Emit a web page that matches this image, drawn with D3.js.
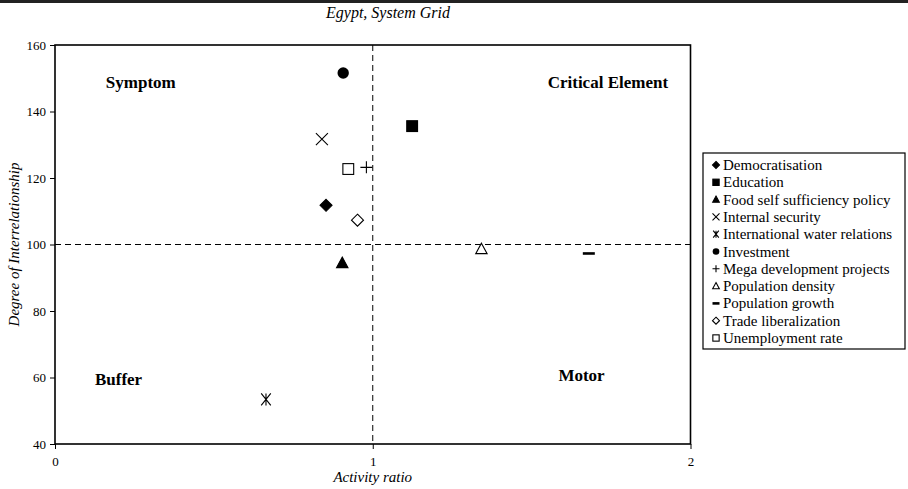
<!DOCTYPE html>
<html>
<head>
<meta charset="utf-8">
<script src="https://cdn.jsdelivr.net/npm/d3@7"></script>
<style>
  html, body { margin: 0; padding: 0; background: #fff; }
  svg { display: block; }
  svg text { font-family: "Liberation Serif", "Times New Roman", serif; fill: #000; }
</style>
</head>
<body>
<svg id="chart" width="908" height="489"></svg>
<script>
// Variables of the system grid
const names = [
  "Democratisation", "Education", "Food self sufficiency policy", "Internal security",
  "International water relations", "Investment", "Mega development projects",
  "Population density", "Population growth", "Trade liberalization", "Unemployment rate"
];
const markers = ["diamondFill", "squareFill", "triangleFill", "cross", "asterisk",
  "circleFill", "plus", "triangleOpen", "dash", "diamondOpen", "squareOpen"];
const activityRatio = [0.853, 1.124, 0.904, 0.84, 0.664, 0.907, 0.98, 1.342, 1.68, 0.952, 0.923];
const interrelation = [111.8, 135.6, 94.4, 131.7, 53.4, 151.6, 123.2, 98.6, 97.3, 107.3, 122.7];

const xTicks = [0, 1, 2];
const yTicks = [40, 60, 80, 100, 120, 140, 160];
const quadrants = [
  { text: "Symptom", x: 0.27, y: 147.2 },
  { text: "Critical Element", x: 1.74, y: 147.2 },
  { text: "Buffer", x: 0.2, y: 57.8 },
  { text: "Motor", x: 1.657, y: 59.0 }
];

const svg = d3.select("#chart");
const L = 55, R = 690.5, T = 45, B = 444;
const x = d3.scaleLinear().domain([0, 2]).range([L, R]);
const y = d3.scaleLinear().domain([40, 160]).range([B, T]);

// heavy rule across the top of the figure
svg.append("rect").attr("x", 0).attr("y", 0).attr("width", 908).attr("height", 3).attr("fill", "#222");

// title
svg.append("text").attr("x", 388).attr("y", 18).attr("text-anchor", "middle")
  .attr("font-style", "italic").attr("font-size", 16).text("Egypt, System Grid");

// axes
const xAxis = d3.axisBottom(x).tickValues(xTicks).tickSize(5).tickFormat(d3.format("d"));
const yAxis = d3.axisLeft(y).tickValues(yTicks).tickSize(5).tickFormat(d3.format("d"));
const gx = svg.append("g").attr("transform", `translate(0,${B})`).call(xAxis);
const gy = svg.append("g").attr("transform", `translate(${L},0)`).call(yAxis);
[gx, gy].forEach(g => {
  g.attr("font-family", null).attr("font-size", null);
  g.select(".domain").remove();
  g.selectAll("line").attr("stroke", "#000").attr("stroke-width", 1);
  g.selectAll("text").attr("font-size", 13).attr("fill", "#000");
});
gx.selectAll("text").attr("dy", "1.1em");
gy.selectAll("text").attr("dx", "-1px");

// quadrant dividers
svg.append("line").attr("x1", x(1)).attr("x2", x(1)).attr("y1", T).attr("y2", B)
  .attr("stroke", "#000").attr("stroke-dasharray", "6,4");
svg.append("line").attr("x1", L).attr("x2", R).attr("y1", y(100)).attr("y2", y(100))
  .attr("stroke", "#000").attr("stroke-dasharray", "6,4");

// plot frame
svg.append("rect").attr("x", L).attr("y", T).attr("width", R - L).attr("height", B - T)
  .attr("fill", "none").attr("stroke", "#000").attr("stroke-width", 1.6);

// quadrant labels
svg.selectAll(".quad").data(quadrants).join("text")
  .attr("x", d => x(d.x)).attr("y", d => y(d.y))
  .attr("text-anchor", "middle").attr("font-weight", "bold").attr("font-size", 17)
  .text(d => d.text);

// axis titles
svg.append("text").attr("x", x(1)).attr("y", 482).attr("text-anchor", "middle")
  .attr("font-style", "italic").attr("font-size", 15).text("Activity ratio");
svg.append("text").attr("transform", `translate(19,${y(100)}) rotate(-90)`)
  .attr("text-anchor", "middle").attr("font-style", "italic").attr("font-size", 15)
  .text("Degree of Interrelationship");

// marker drawing
function drawMarker(g, type, s) {
  const h = s / 2;
  switch (type) {
    case "diamondFill":
    case "diamondOpen":
      g.append("path").attr("d", `M0,${-h}L${h},0L0,${h}L${-h},0Z`)
        .attr("fill", type === "diamondFill" ? "#000" : "#fff").attr("stroke", "#000").attr("stroke-width", 1.1);
      break;
    case "squareFill":
    case "squareOpen":
      g.append("rect").attr("x", -h * 0.9).attr("y", -h * 0.9).attr("width", h * 1.8).attr("height", h * 1.8)
        .attr("fill", type === "squareFill" ? "#000" : "#fff").attr("stroke", "#000").attr("stroke-width", 1.1);
      break;
    case "triangleFill":
    case "triangleOpen":
      g.append("path").attr("d", `M0,${-h}L${h * 0.95},${h * 0.75}L${-h * 0.95},${h * 0.75}Z`)
        .attr("fill", type === "triangleFill" ? "#000" : "#fff").attr("stroke", "#000").attr("stroke-width", 1.1);
      break;
    case "circleFill":
      g.append("circle").attr("r", h * 0.95).attr("fill", "#000");
      break;
    case "cross":
      g.append("path").attr("d", `M${-h},${-h}L${h},${h}M${h},${-h}L${-h},${h}`)
        .attr("stroke", "#000").attr("stroke-width", 1.1).attr("fill", "none");
      break;
    case "plus":
      g.append("path").attr("d", `M${-h},0L${h},0M0,${-h}L0,${h}`)
        .attr("stroke", "#000").attr("stroke-width", 1.1).attr("fill", "none");
      break;
    case "asterisk":
      g.append("path").attr("d", `M${-h * 0.8},${-h}L${h * 0.8},${h}M${h * 0.8},${-h}L${-h * 0.8},${h}M0,${-h}L0,${h}`)
        .attr("stroke", "#000").attr("stroke-width", 1.1).attr("fill", "none");
      break;
    case "dash":
      g.append("rect").attr("x", -h).attr("y", -1.3).attr("width", s).attr("height", 2.6).attr("fill", "#000");
      break;
  }
}

// data points
const pts = names.map((n, i) => ({ name: n, m: markers[i], ax: activityRatio[i], dr: interrelation[i] }));
svg.selectAll(".pt").data(pts).join("g")
  .attr("transform", d => `translate(${x(d.ax)},${y(d.dr)})`)
  .each(function (d) { drawMarker(d3.select(this), d.m, 12); });

// legend
const lgX = 703, lgY = 153, lgW = 202, lgStep = 17.3, lgH = 23 + (names.length - 1) * lgStep;
svg.append("rect").attr("x", lgX).attr("y", lgY).attr("width", lgW).attr("height", lgH)
  .attr("fill", "#fff").attr("stroke", "#000").attr("stroke-width", 1.2);
const lg = svg.selectAll(".lg").data(pts).join("g")
  .attr("transform", (d, i) => `translate(${lgX + 13},${lgY + 12 + i * lgStep})`);
lg.each(function (d) { drawMarker(d3.select(this), d.m, 7); });
lg.append("text").attr("x", 7).attr("y", 5).attr("font-size", 15).text(d => d.name);
</script>
</body>
</html>
